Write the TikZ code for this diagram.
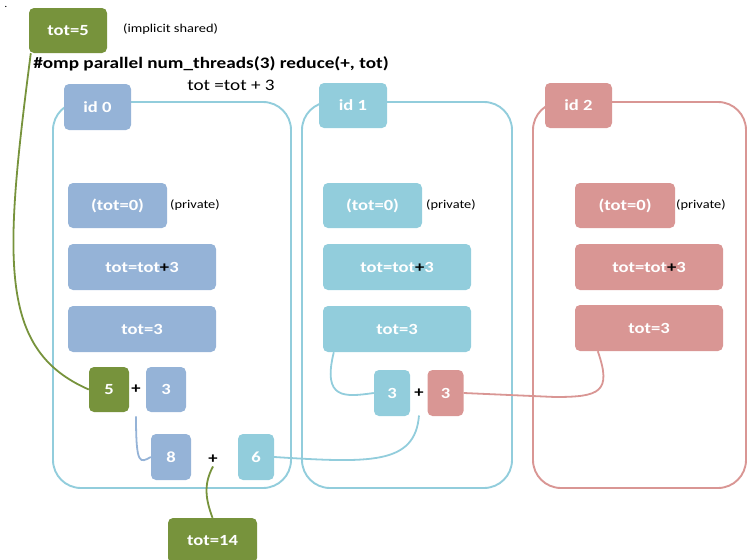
\documentclass[tikz,border=0pt]{standalone}
\usepackage{fontspec}
\setmainfont[FakeStretch=1.2]{Carlito}
\definecolor{ompgreen}{HTML}{77933C}
\definecolor{ompblue}{HTML}{95B3D7}
\definecolor{ompcyan}{HTML}{92CDDC}
\definecolor{ompred}{HTML}{D99694}
\tikzset{
  box/.style 2 args={rounded corners=5pt, inner sep=0pt, text=white,
    minimum width=#1pt, minimum height=#2pt,
    font=\fontsize{15.5}{18}\selectfont\bfseries},
  frame/.style 2 args={draw, line width=1.9pt, rounded corners=28pt,
    inner sep=0pt, minimum width=#1pt, minimum height=#2pt},
  note/.style={font=\fontsize{12}{14}\selectfont, inner sep=0pt},
  op/.style={font=\fontsize{15.5}{18}\selectfont\bfseries, inner sep=1pt},
  link/.style={line width=1.8pt},
}
\newcommand{\blackplus}{{\color{black}+}}
\begin{document}
\begin{tikzpicture}[x=1pt,y=-1pt]
\useasboundingbox (0,0) rectangle (748,560);

% thread frames
\node[frame={238}{386}, draw=ompcyan] (c0) at (172,295) {};
\node[frame={210}{386}, draw=ompcyan] (c1) at (407,295) {};
\node[frame={213}{386}, draw=ompred] (c2) at (639.5,295) {};

% shared variable and pragma
\node[inner sep=0pt, font=\fontsize{10}{12}\selectfont] (dot) at (6,7) {.};
\node[box={78}{45}, fill=ompgreen] (tot5) at (68,30.5) {tot=5};
\node[note, anchor=west] (shared) at (123,29) {(implicit shared)};
\node[inner sep=0pt, font=\fontsize{16}{19}\selectfont\bfseries] (pragma) at (211,64) {\#omp parallel num\_threads(3) reduce(+, tot)};
\node[inner sep=0pt, font=\fontsize{16}{19}\selectfont] (stmt) at (231,85) {tot =tot + 3};

% thread ids
\node[box={67}{46}, fill=ompblue] (id0) at (97.5,107) {id 0};
\node[box={68}{45}, fill=ompcyan] (id1) at (353,105.5) {id 1};
\node[box={67}{45}, fill=ompred] (id2) at (578.5,105.5) {id 2};

% thread 0
\node[box={99}{45}, fill=ompblue] (a0) at (117.5,205.5) {(tot=0)};
\node[note, anchor=west] (p0) at (170,205) {(private)};
\node[box={148}{46}, fill=ompblue] (a1) at (142,267) {tot=tot\blackplus3};
\node[box={148}{46}, fill=ompblue] (a2) at (142,329) {tot=3};

% thread 1
\node[box={99}{45}, fill=ompcyan] (b0) at (372.5,205.5) {(tot=0)};
\node[note, anchor=west] (p1) at (426,205) {(private)};
\node[box={148}{46}, fill=ompcyan] (b1) at (397,267) {tot=tot\blackplus3};
\node[box={148}{46}, fill=ompcyan] (b2) at (397,329) {tot=3};

% thread 2
\node[box={100}{45}, fill=ompred] (r0) at (625,205.5) {(tot=0)};
\node[note, anchor=west] (p2) at (676,205) {(private)};
\node[box={148}{46}, fill=ompred] (r1) at (649,267) {tot=tot\blackplus3};
\node[box={148}{46}, fill=ompred] (r2) at (649,328) {tot=3};

% reduction
\node[box={40}{45}, fill=ompgreen] (n5) at (109,389.5) {5};
\node[op] (plusA) at (136,389) {+};
\node[box={40}{45}, fill=ompblue] (n3a) at (166,389.5) {3};
\node[box={36}{46}, fill=ompcyan] (n3b) at (392,393) {3};
\node[op] (plusB) at (419,393) {+};
\node[box={36}{46}, fill=ompred] (n3c) at (445.5,393) {3};
\node[box={40}{46}, fill=ompblue] (n8) at (171,457) {8};
\node[op] (plusC) at (213,459) {+};
\node[box={36}{46}, fill=ompcyan] (n6) at (256,457) {6};
\node[box={89}{45}, fill=ompgreen] (tot14) at (212.5,540.5) {tot=14};

% connectors
\draw[link, ompgreen] ([xshift=2pt]tot5.south west) .. controls (4,260) and (-2,350) .. (n5.west);
\draw[link, ompblue] ([yshift=-22pt]plusA.south) .. controls (136,466) and (140,463) .. (n8.west);
\draw[link, ompcyan] ([xshift=11pt]b2.south west) .. controls (322,400) and (345,397) .. (n3b.west);
\draw[link, ompred] ([xshift=23pt]r2.south west) .. controls (612,392) and (600,397) .. (555,397) -- (n3c.east);
\draw[link, ompcyan] ([yshift=-17pt]plusB.south) .. controls (415,465) and (370,463) .. (n6.east);
\draw[link, ompgreen] ([yshift=-2pt]plusC.south) .. controls (203,485) and (206,500) .. (tot14.north);
\end{tikzpicture}
\end{document}
